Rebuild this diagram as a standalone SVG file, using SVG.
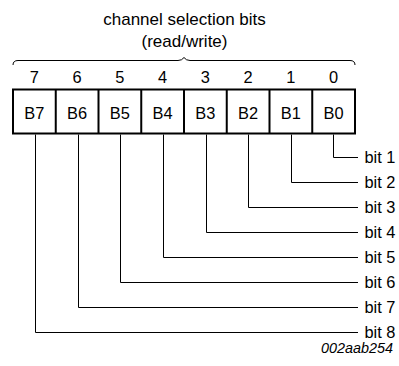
<svg xmlns="http://www.w3.org/2000/svg" width="399" height="366" viewBox="0 0 399 366">
<style>
text{font-family:"Liberation Sans",Arial,sans-serif;fill:#000;font-size:16.4px}
.c{text-anchor:middle}
.h{font-size:17px}
.w{fill:none;stroke:#000;stroke-width:1}
.d{fill:none;stroke:#000;stroke-width:2}
.box{fill:#fff;stroke:#000;stroke-width:2}
.id{font-size:14.4px;font-style:italic;text-anchor:end}
</style>
<rect width="399" height="366" fill="#fff"/>
<g id="header">
<text class="c h" x="184.5" y="25">channel selection bits</text>
<text class="c h" x="184.5" y="47">(read/write)</text>
<path class="w" d="M13,65 Q13,60.5 18,60.5 L178,60.5 Q182,60.5 184,57.5 Q186,60.5 190,60.5 L350,60.5 Q355,60.5 355,65"/>
</g>
<g id="numbers">
<text class="c" x="34.4" y="83">7</text>
<text class="c" x="77.1" y="83">6</text>
<text class="c" x="119.9" y="83">5</text>
<text class="c" x="162.6" y="83">4</text>
<text class="c" x="205.4" y="83">3</text>
<text class="c" x="248.1" y="83">2</text>
<text class="c" x="290.9" y="83">1</text>
<text class="c" x="333.6" y="83">0</text>
</g>
<g id="register">
<rect class="box" x="13" y="89.5" width="342" height="44"/>
<path class="d" d="M55.75,89.5V133.5M98.5,89.5V133.5M141.25,89.5V133.5M184,89.5V133.5M226.75,89.5V133.5M269.5,89.5V133.5M312.25,89.5V133.5"/>
<text class="c" x="34.4" y="119">B7</text>
<text class="c" x="77.1" y="119">B6</text>
<text class="c" x="119.9" y="119">B5</text>
<text class="c" x="162.6" y="119">B4</text>
<text class="c" x="205.4" y="119">B3</text>
<text class="c" x="248.1" y="119">B2</text>
<text class="c" x="290.9" y="119">B1</text>
<text class="c" x="333.6" y="119">B0</text>
</g>
<g id="connectors">
<path class="w" d="M333.5,134.5V157.5H358"/>
<path class="w" d="M291.5,134.5V182.5H358"/>
<path class="w" d="M248.5,134.5V207.5H358"/>
<path class="w" d="M206.5,134.5V232.5H358"/>
<path class="w" d="M163.5,134.5V257.5H358"/>
<path class="w" d="M120.5,134.5V282.5H358"/>
<path class="w" d="M78.5,134.5V307.5H358"/>
<path class="w" d="M35.5,134.5V332.5H358"/>
</g>
<g id="labels">
<text x="364.5" y="163">bit 1</text>
<text x="364.5" y="188">bit 2</text>
<text x="364.5" y="213">bit 3</text>
<text x="364.5" y="238">bit 4</text>
<text x="364.5" y="263">bit 5</text>
<text x="364.5" y="288">bit 6</text>
<text x="364.5" y="313">bit 7</text>
<text x="364.5" y="338">bit 8</text>
</g>
<text id="code" class="id" x="393" y="353">002aab254</text>
</svg>
